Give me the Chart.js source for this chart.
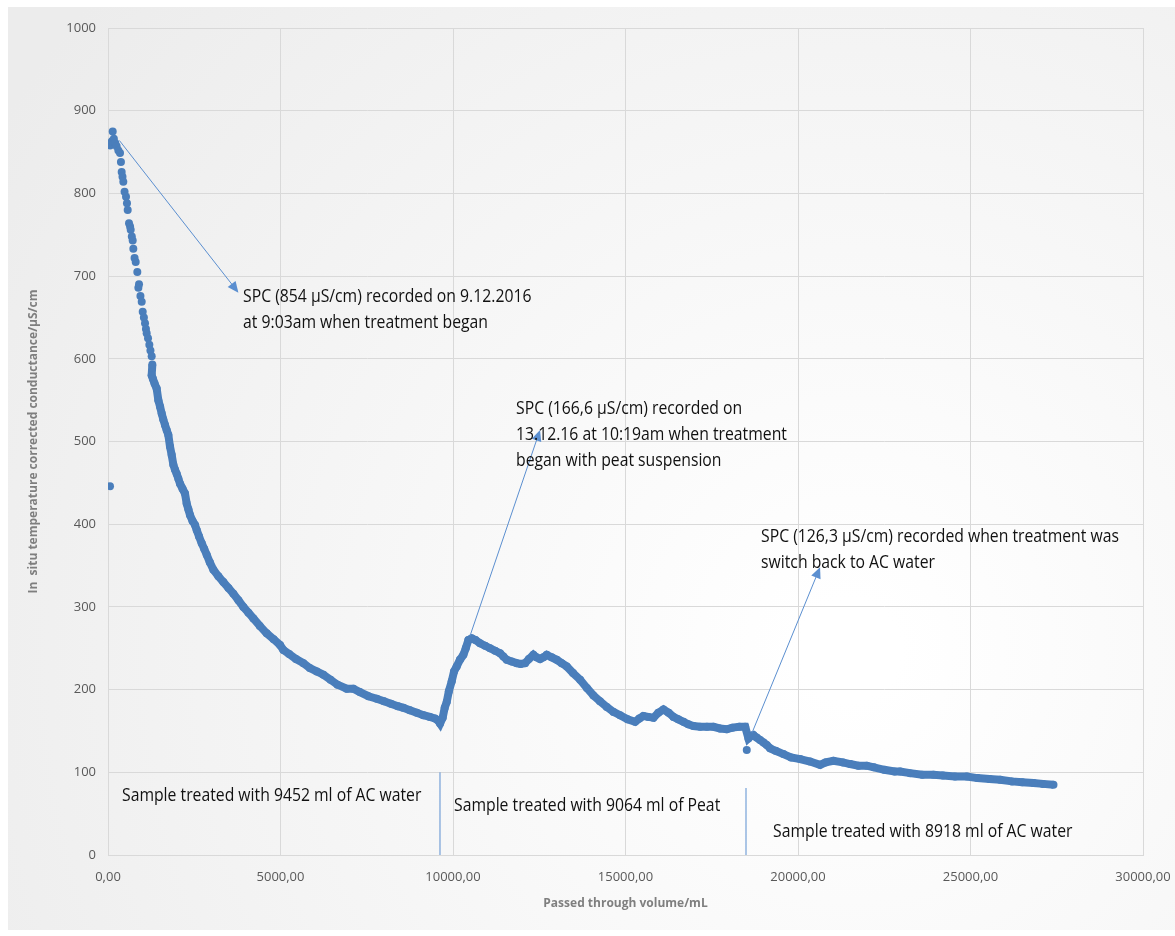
<!DOCTYPE html>
<html>
<head>
<meta charset="utf-8">
<script src="https://cdn.jsdelivr.net/npm/chart.js@4/dist/chart.umd.min.js"></script>
<style>
html, body { margin: 0; padding: 0; background: #fff; }
</style>
</head>
<body>
<canvas id="myChart" width="1175" height="936"></canvas>
<script>
// passed through volume (mL) and SPC (uS/cm)
var volume = [60,110,136,170,210,250,300,348,375,396,420,444,480,522,550,571,609,640,658,690,716,734,770,803,850,880,899,940,977,1006,1040,1073,1100,1121,1160,1198,1230,1266,1285,1266,1300,1350,1411,1459,1510,1556,1600,1652,1700,1749,1797,1845,1894,1940,1990,2040,2087,2160,2232,2281,2330,2377,2450,2522,2570,2640,2716,2790,2861,2950,3054,3200,3344,3490,3634,3780,3924,4070,4214,4400,4600,4800,4986,5082,5250,5450,5662,5850,6050,6242,6450,6650,6919,7112,7300,7550,7790,8000,8200,8400,8561,8750,8950,9141,9330,9480,9560,9625,9700,9760,9818,9880,9963,10030,10107,10200,10301,10370,10446,10543,10650,10784,10930,11074,11220,11364,11460,11558,11700,11848,11960,12089,12200,12330,12420,12523,12620,12717,12860,13007,13150,13297,13480,13684,13880,14070,14260,14457,14650,14843,15060,15278,15400,15519,15660,15810,15950,16100,16250,16390,16530,16680,16820,16970,17162,17360,17549,17740,17935,18100,18300,18470,18563,18640,18708,18800,18900,19000,19095,19191,19350,19578,19800,20061,20350,20640,20800,21027,21300,21511,21750,21993,22200,22500,22800,22960,23250,23600,23926,24200,24550,24893,25200,25550,25859,26200,26500,26826,27100,27405];
var spc = [858,863,875,866,861,857,852,849,838,826,820,814,802,796,788,780,764,760,756,748,743,733,722,717,705,686,690,676,669,657,650,643,636,631,625,617,610,603,593,580,576,570,564,550,542,534,527,520,514,508,494,484,472,466,461,455,449,443,437,425,418,411,404,399,393,385,377,370,363,354,345,337,330,323,316,308,300,293,286,277,268,261,254,248,243,237,232,226,222,218,212,206,201,201,197,192,189,186,183,180,178,175,172,169,167,165,163,159,166,178,185,198,210,222,228,236,242,250,260,262,260,256,253,250,247,244,240,236,234,232,231,232,237,242,239,237,239,242,239,236,232,228,220,212,202,193,186,179,173,169,164,161,165,168,167,166,172,176,172,167,164,161,158,156,155,155,155,153,152,154,155,155,141,144,145,142,139,136,133,129,126,122,118,116,113,109,112,114,112,110,108,108,106,103,101,101,99,97,97,96,95,95,93,92,91,89,88,87,86,85];
// single stray readings
var strayVolume = [58, 18515];
var straySpc = [446, 127];
// treatment switch markers
var switchVolume = [9623, 18493];
var switchTop = [100, 81];

var xTicks = [0, 5000, 10000, 15000, 20000, 25000, 30000];

var notes = [
    { x: 3914, y: 675, lines: ['SPC (854 \u00b5S/cm) recorded on 9.12.2016', 'at 9:03am when treatment began'] },
    { x: 11828, y: 539, lines: ['SPC (166,6 \u00b5S/cm) recorded on', '13.12.16 at 10:19am when treatment', 'began with peat suspension'] },
    { x: 18929, y: 385, lines: ['SPC (126,3 \u00b5S/cm) recorded when treatment was', 'switch back to AC water'] },
    { x: 406, y: 71, lines: ['Sample treated with 9452 ml of AC water'] },
    { x: 10030, y: 59, lines: ['Sample treated with 9064 ml of Peat'] },
    { x: 19278, y: 28, lines: ['Sample treated with 8918 ml of AC water'] }
];
var arrows = [
    { x0: 330, y0: 864, x1: 3780, y1: 680 },
    { x0: 10494, y0: 265, x1: 12523, y1: 514 },
    { x0: 18670, y0: 148, x1: 20640, y1: 348 }
];

var blue = '#4a7ebb';
var points = volume.map(function (v, i) { return { x: v, y: spc[i] }; });
var strays = strayVolume.map(function (v, i) { return { x: v, y: straySpc[i] }; });

var datasets = [{
    label: 'SPC',
    data: points,
    showLine: true,
    borderColor: blue,
    backgroundColor: blue,
    borderWidth: 8,
    pointRadius: 4,
    pointBorderWidth: 0,
    segment: {
        borderColor: function (ctx) { return ctx.p0.parsed.y > 600 ? 'rgba(0,0,0,0)' : undefined; }
    }
}, {
    label: 'stray',
    data: strays,
    backgroundColor: blue,
    pointRadius: 4,
    pointBorderWidth: 0
}];
switchVolume.forEach(function (v, i) {
    datasets.push({
        label: 'switch' + i,
        data: [{ x: v, y: 0 }, { x: v, y: switchTop[i] }],
        showLine: true,
        borderColor: '#5b8fd0',
        borderWidth: 1,
        pointRadius: 0
    });
});

var decor = {
    id: 'decor',
    beforeDraw: function (chart) {
        var c = chart.ctx;
        c.save();
        c.fillStyle = '#ffffff';
        c.fillRect(0, 0, chart.width, chart.height);
        var g = c.createRadialGradient(850, 650, 50, 850, 650, 1000);
        g.addColorStop(0, '#ffffff');
        g.addColorStop(1, '#ececec');
        c.fillStyle = g;
        c.fillRect(8, 7, chart.width - 8, 923);
        c.restore();
    },
    afterDatasetsDraw: function (chart) {
        var c = chart.ctx, xs = chart.scales.x, ys = chart.scales.y;
        c.save();
        c.strokeStyle = '#5b8fd0';
        c.fillStyle = '#5b8fd0';
        c.lineWidth = 1;
        arrows.forEach(function (a) {
            var x0 = xs.getPixelForValue(a.x0), y0 = ys.getPixelForValue(a.y0);
            var x1 = xs.getPixelForValue(a.x1), y1 = ys.getPixelForValue(a.y1);
            var ang = Math.atan2(y1 - y0, x1 - x0);
            c.beginPath();
            c.moveTo(x0, y0);
            c.lineTo(x1 - 8 * Math.cos(ang), y1 - 8 * Math.sin(ang));
            c.stroke();
            c.beginPath();
            c.moveTo(x1, y1);
            c.lineTo(x1 - 11 * Math.cos(ang) + 5 * Math.sin(ang), y1 - 11 * Math.sin(ang) - 5 * Math.cos(ang));
            c.lineTo(x1 - 11 * Math.cos(ang) - 5 * Math.sin(ang), y1 - 11 * Math.sin(ang) + 5 * Math.cos(ang));
            c.closePath();
            c.fill();
        });
        // the source uses a narrow face; squeeze Open Sans to a similar width
        c.fillStyle = '#111111';
        c.font = '17.5px "Open Sans", sans-serif';
        c.textBaseline = 'middle';
        c.textAlign = 'left';
        notes.forEach(function (n) {
            var x = xs.getPixelForValue(n.x), y = ys.getPixelForValue(n.y);
            n.lines.forEach(function (t, k) {
                c.save();
                c.translate(x, y + k * 26);
                c.scale(0.9, 1);
                c.fillText(t, 0, 0);
                c.restore();
            });
        });
        c.restore();
    }
};

var ctx = document.getElementById('myChart').getContext('2d');
var myChart = new Chart(ctx, {
    type: 'scatter',
    data: { datasets: datasets },
    options: {
        responsive: false,
        animation: false,
        layout: { padding: { left: 8, right: 32, top: 28, bottom: 25 } },
        plugins: { legend: { display: false }, tooltip: { enabled: false } },
        scales: {
            x: {
                type: 'linear', min: 0, max: 30000,
                afterBuildTicks: function (axis) { axis.ticks = xTicks.map(function (v) { return { value: v }; }); },
                afterFit: function (axis) { axis.height = 56; axis.paddingRight = 0; axis.paddingLeft = 0; },
                grid: { color: '#d9d9d9', drawTicks: false },
                border: { color: '#d9d9d9' },
                ticks: {
                    padding: 14, color: '#595959',
                    font: { family: '"Open Sans", sans-serif', size: 13 },
                    callback: function (v) { return v.toFixed(2).replace('.', ','); }
                },
                title: {
                    display: true, text: 'Passed through volume/mL', color: '#7f7f7f',
                    font: { family: '"Open Sans", sans-serif', size: 12, weight: 'bold' },
                    padding: { top: 8, bottom: 0 }
                }
            },
            y: {
                min: 0, max: 1000,
                ticks: {
                    stepSize: 100, padding: 12, color: '#595959',
                    font: { family: '"Open Sans", sans-serif', size: 13 },
                    callback: function (v) { return String(v); }
                },
                afterFit: function (axis) { axis.width = 100; },
                grid: { color: '#d9d9d9', drawTicks: false },
                border: { color: '#d9d9d9' },
                title: {
                    display: true, text: 'In  situ temperature corrected conductance/\u00b5S/cm', color: '#7f7f7f',
                    font: { family: '"Open Sans", sans-serif', size: 12, weight: 'bold' },
                    padding: { top: 18, bottom: 0 }
                }
            }
        }
    },
    plugins: [decor]
});
</script>
</body>
</html>
